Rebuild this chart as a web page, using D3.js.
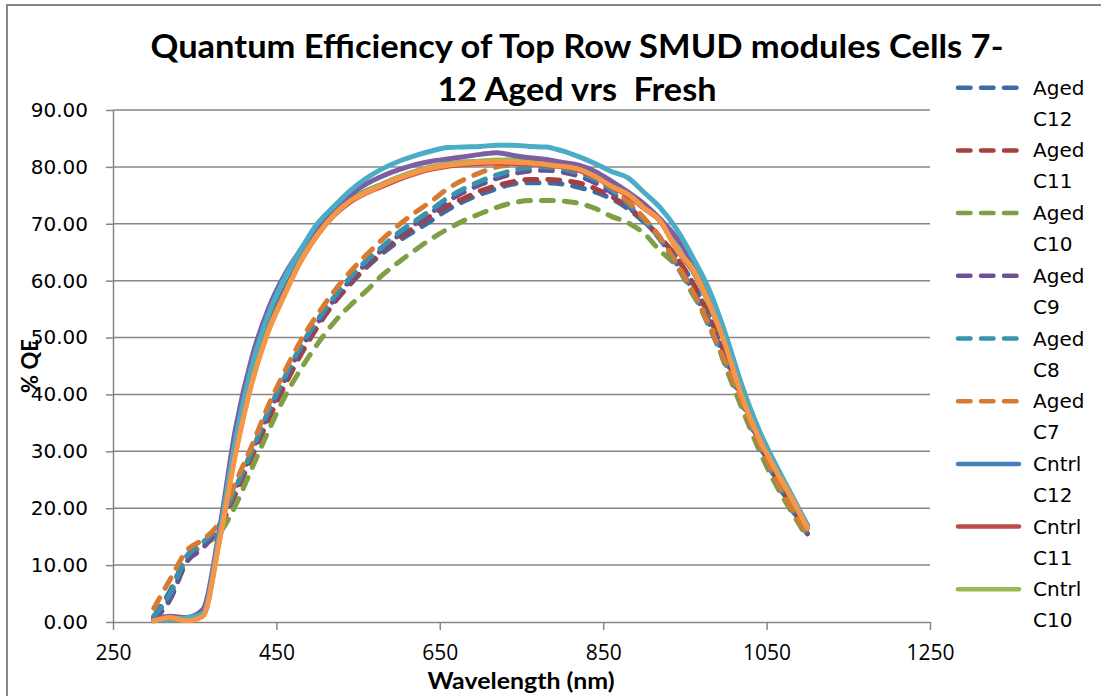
<!DOCTYPE html>
<html>
<head>
<meta charset="utf-8">
<script src="https://cdn.jsdelivr.net/npm/d3@7"></script>
<style>
  html, body { margin: 0; padding: 0; background: #fff; }
  svg { display: block; }
</style>
</head>
<body>
<svg id="chart" width="1101" height="696"></svg>
<script>
// wavelength (nm) of each reading
var wavelengths = [300, 320, 340, 360, 380, 400, 420, 440, 460, 480, 500, 520, 540, 560, 580, 600, 620, 640, 660, 680,
    700, 720, 740, 760, 780, 800, 820, 840, 860, 880, 900, 920, 940, 960, 980, 1000, 1020, 1040, 1060, 1080, 1100];

// % QE, aged cells (dashed)
var agedC12 = [1.0, 5.5, 11.5, 13.5, 16.5, 23.0, 29.5, 36.0, 42.0, 47.5, 52.0, 56.0, 59.3, 62.3, 64.8, 67.0, 68.8, 70.6, 72.5, 74.0,
    75.2, 76.2, 77.0, 77.2, 77.2, 77.0, 76.4, 75.6, 74.4, 72.7, 70.3, 67.5, 64.0, 59.5, 53.8, 47.0, 39.5, 32.0, 25.8, 20.5, 16.0];
var agedC11 = [0.8, 5.0, 11.0, 13.5, 16.5, 22.5, 29.0, 35.5, 41.5, 47.0, 51.8, 56.0, 59.5, 62.5, 65.2, 67.5, 69.5, 71.5, 73.2, 74.5,
    75.8, 76.7, 77.4, 77.8, 77.8, 77.6, 77.2, 76.2, 74.8, 73.0, 70.5, 67.6, 64.0, 59.5, 53.6, 46.8, 39.3, 32.0, 25.6, 20.3, 15.5];
var agedC10 = [0.5, 4.5, 10.5, 13.5, 15.5, 20.5, 27.0, 33.5, 39.5, 44.5, 48.8, 52.6, 55.6, 58.2, 61.0, 63.3, 65.4, 67.4, 69.1, 70.6,
    71.8, 72.9, 73.7, 74.1, 74.1, 74.0, 73.6, 72.7, 71.3, 70.2, 68.3, 65.2, 62.5, 57.5, 52.8, 44.8, 37.5, 30.5, 24.5, 19.5, 14.8];
var agedC9 = [0.3, 4.0, 10.5, 13.0, 16.8, 23.5, 30.0, 36.5, 42.5, 48.0, 52.5, 56.5, 60.0, 63.0, 65.5, 68.0, 70.0, 72.0, 74.0, 75.6,
    76.9, 78.0, 78.8, 79.3, 79.4, 79.1, 78.4, 77.2, 75.5, 73.2, 70.5, 67.2, 63.0, 58.2, 52.5, 46.0, 38.8, 31.6, 25.4, 20.1, 15.5];
var agedC8 = [1.0, 5.0, 11.5, 14.0, 17.0, 23.5, 30.0, 37.0, 43.0, 48.5, 53.0, 57.0, 60.5, 63.5, 66.0, 68.5, 70.5, 72.5, 74.6, 76.2,
    77.5, 78.6, 79.4, 79.9, 80.0, 79.7, 79.0, 77.8, 76.0, 73.6, 70.7, 67.2, 62.8, 57.8, 51.8, 45.3, 38.3, 31.3, 25.3, 20.0, 15.5];
var agedC7 = [2.4, 7.5, 12.5, 14.5, 17.5, 24.5, 31.0, 38.0, 44.0, 49.5, 54.0, 58.0, 61.5, 64.5, 67.3, 69.8, 72.0, 74.0, 76.2, 77.8,
    79.0, 80.0, 80.3, 80.5, 80.5, 80.2, 79.6, 78.5, 76.5, 74.0, 71.0, 67.5, 63.0, 58.0, 52.0, 45.5, 38.5, 31.5, 25.5, 20.0, 15.5];

// % QE, control cells (solid)
var cntrlC12 = [0.3, 0.6, 0.5, 1.4, 15.0, 31.0, 43.5, 52.5, 58.5, 64.0, 68.5, 71.8, 74.2, 75.8, 77.0, 78.2, 79.2, 80.0, 80.5, 80.8,
    81.0, 81.1, 81.0, 80.9, 80.6, 80.3, 79.8, 78.5, 76.8, 75.3, 73.0, 70.6, 65.8, 61.8, 56.0, 49.0, 40.0, 33.0, 27.2, 22.0, 16.8];
var cntrlC11 = [0.2, 0.5, 0.4, 1.2, 14.5, 30.0, 42.5, 51.5, 57.8, 63.5, 68.0, 71.4, 73.8, 75.4, 76.6, 77.8, 78.8, 79.6, 80.1, 80.4,
    80.6, 80.7, 80.6, 80.5, 80.3, 80.0, 79.4, 78.2, 76.5, 75.0, 72.7, 70.4, 65.5, 61.6, 55.8, 48.6, 39.6, 32.6, 27.0, 21.8, 16.5];
var cntrlC10 = [0.3, 0.6, 0.3, 1.1, 14.2, 29.8, 42.2, 51.2, 57.6, 63.6, 68.1, 71.6, 74.1, 75.7, 77.0, 78.2, 79.2, 80.0, 80.5, 80.8,
    81.0, 81.2, 81.2, 81.1, 80.8, 80.5, 80.0, 78.8, 77.0, 75.5, 73.0, 70.6, 65.8, 61.8, 55.8, 48.8, 39.8, 32.8, 27.0, 21.8, 16.5];
var cntrlC9 = [0.5, 1.0, 0.8, 2.2, 16.0, 34.0, 46.5, 55.0, 61.0, 65.5, 69.5, 72.5, 75.0, 77.0, 78.4, 79.5, 80.4, 81.0, 81.4, 81.8,
    82.2, 82.5, 82.0, 81.6, 81.3, 80.8, 80.3, 79.2, 77.5, 75.6, 73.5, 70.8, 67.5, 63.0, 57.0, 49.8, 41.0, 33.5, 27.5, 22.3, 17.0];
var cntrlC8 = [0.3, 0.5, 0.7, 1.5, 15.0, 32.0, 45.0, 54.0, 60.5, 65.5, 70.0, 73.0, 75.8, 78.0, 79.7, 81.0, 82.0, 82.8, 83.4, 83.5,
    83.6, 83.8, 83.8, 83.6, 83.5, 82.8, 81.8, 80.6, 79.2, 78.1, 75.5, 72.8, 69.0, 64.0, 58.3, 50.5, 41.5, 34.0, 28.0, 22.5, 17.0];
var cntrlC7 = [0.2, 0.8, 0.2, 1.0, 14.0, 29.5, 42.0, 51.0, 57.5, 63.5, 68.0, 71.5, 74.0, 75.5, 76.8, 78.0, 79.0, 79.8, 80.3, 80.6,
    80.8, 80.9, 80.8, 80.7, 80.4, 80.1, 79.6, 78.3, 76.6, 75.2, 72.8, 70.5, 65.5, 62.0, 56.0, 48.5, 39.5, 32.5, 27.0, 22.0, 16.5];

var seriesNames = ['Aged C12', 'Aged C11', 'Aged C10', 'Aged C9', 'Aged C8', 'Aged C7',
    'Cntrl C12', 'Cntrl C11', 'Cntrl C10', 'Cntrl C9', 'Cntrl C8', 'Cntrl C7'];
var seriesValues = [agedC12, agedC11, agedC10, agedC9, agedC8, agedC7,
    cntrlC12, cntrlC11, cntrlC10, cntrlC9, cntrlC8, cntrlC7];
var seriesColors = ['#3b6ca6', '#a5403c', '#7f9f45', '#6a5195', '#3793ae', '#d67b31',
    '#4a7ebb', '#be4b48', '#98b954', '#7d5fa0', '#4bacc6', '#f79646'];

// only the first nine series fit in the legend
var legendCount = 9;

var xTicks = [250, 450, 650, 850, 1050, 1250];
var yTicks = [0, 10, 20, 30, 40, 50, 60, 70, 80, 90];

var titleLines = ['Quantum Efficiency of Top Row SMUD modules Cells 7-', '12 Aged vrs  Fresh'];

var svg = d3.select('#chart');
var gridColor = '#868686';

// chart border (runs past the right and bottom edges of the window)
svg.append('rect')
    .attr('x', 7).attr('y', 5)
    .attr('width', 1120).attr('height', 720)
    .attr('fill', 'none')
    .attr('stroke', gridColor)
    .attr('stroke-width', 2);

var plot = { left: 113, right: 930, top: 110, bottom: 622 };

var xs = d3.scaleLinear().domain([250, 1250]).range([plot.left, plot.right]);
var ys = d3.scaleLinear().domain([0, 90]).range([plot.bottom, plot.top]);

// horizontal gridlines
svg.append('g').selectAll('line')
    .data(yTicks.filter(function (d) { return d > 0; }))
    .enter().append('line')
    .attr('x1', plot.left).attr('x2', plot.right)
    .attr('y1', function (d) { return ys(d); })
    .attr('y2', function (d) { return ys(d); })
    .attr('stroke', gridColor)
    .attr('stroke-width', 1.5);

// y axis
var yAxis = svg.append('g')
    .attr('transform', 'translate(' + plot.left + ',0)')
    .call(d3.axisLeft(ys).tickValues(yTicks).tickFormat(d3.format('.2f')).tickSize(7).tickSizeOuter(0).tickPadding(18));

// x axis
var xAxis = svg.append('g')
    .attr('transform', 'translate(0,' + plot.bottom + ')')
    .call(d3.axisBottom(xs).tickValues(xTicks).tickFormat(d3.format('d')).tickSize(8).tickSizeOuter(0).tickPadding(15));

[yAxis, xAxis].forEach(function (ax) {
    ax.select('.domain').attr('stroke', gridColor).attr('stroke-width', 1.5);
    ax.selectAll('.tick line').attr('stroke', gridColor).attr('stroke-width', 1.5);
    ax.selectAll('.tick text').attr('fill', '#000');
});
yAxis.selectAll('.tick text')
    .style('font-family', '"DejaVu Sans", sans-serif')
    .style('font-size', '20px');
xAxis.selectAll('.tick text')
    .style('font-family', '"Liberation Sans Narrow", "Open Sans", sans-serif')
    .style('font-size', '21px');

// series lines
var line = d3.line()
    .x(function (d, i) { return xs(wavelengths[i]); })
    .y(function (d) { return ys(d); })
    .curve(d3.curveMonotoneX);

svg.append('g').selectAll('path')
    .data(seriesValues)
    .enter().append('path')
    .attr('d', line)
    .attr('fill', 'none')
    .attr('stroke', function (d, i) { return seriesColors[i]; })
    .attr('stroke-width', 5)
    .attr('stroke-linecap', 'round')
    .attr('stroke-linejoin', 'round')
    .attr('stroke-dasharray', function (d, i) { return seriesNames[i].indexOf('Aged') === 0 ? '12,11' : null; });

// title (keep the double space in the second line)
svg.append('g').selectAll('text')
    .data(titleLines)
    .enter().append('text')
    .attr('x', 577)
    .attr('y', function (d, i) { return 58 + i * 43; })
    .attr('text-anchor', 'middle')
    .attr('textLength', function (d, i) { return i === 0 ? 853 : 279; })
    .attr('lengthAdjust', 'spacingAndGlyphs')
    .style('white-space', 'pre')
    .style('font-family', 'Lato, "Open Sans", sans-serif')
    .style('font-weight', 'bold')
    .style('font-size', '32px')
    .text(function (d) { return d; });

// axis titles
svg.append('text')
    .attr('transform', 'translate(38,366) rotate(-90)')
    .attr('text-anchor', 'middle')
    .style('font-family', 'Lato, "Open Sans", sans-serif')
    .style('font-weight', 'bold')
    .style('font-size', '22px')
    .text('% QE');

svg.append('text')
    .attr('x', 521)
    .attr('y', 689)
    .attr('text-anchor', 'middle')
    .attr('textLength', 187)
    .attr('lengthAdjust', 'spacingAndGlyphs')
    .style('font-family', 'Lato, "Open Sans", sans-serif')
    .style('font-weight', 'bold')
    .style('font-size', '23px')
    .text('Wavelength (nm)');

// legend: symbol plus a two line label
var legend = svg.append('g').selectAll('g')
    .data(seriesNames.slice(0, legendCount))
    .enter().append('g')
    .attr('transform', function (d, i) { return 'translate(0,' + (87.7 + i * 62.7) + ')'; });

legend.append('line')
    .attr('x1', 958).attr('x2', 1019)
    .attr('y1', 0).attr('y2', 0)
    .attr('stroke', function (d, i) { return seriesColors[i]; })
    .attr('stroke-width', 4.5)
    .attr('stroke-linecap', 'round')
    .attr('stroke-dasharray', function (d) { return d.indexOf('Aged') === 0 ? '12.5,10.5' : null; });

legend.append('text')
    .attr('x', 1033)
    .attr('y', 7)
    .style('font-family', '"DejaVu Sans", sans-serif')
    .style('font-size', '20px')
    .text(function (d) { return d.split(' ')[0]; });

legend.append('text')
    .attr('x', 1033)
    .attr('y', 38)
    .style('font-family', '"DejaVu Sans", sans-serif')
    .style('font-size', '20px')
    .text(function (d) { return d.split(' ')[1]; });
</script>
</body>
</html>
